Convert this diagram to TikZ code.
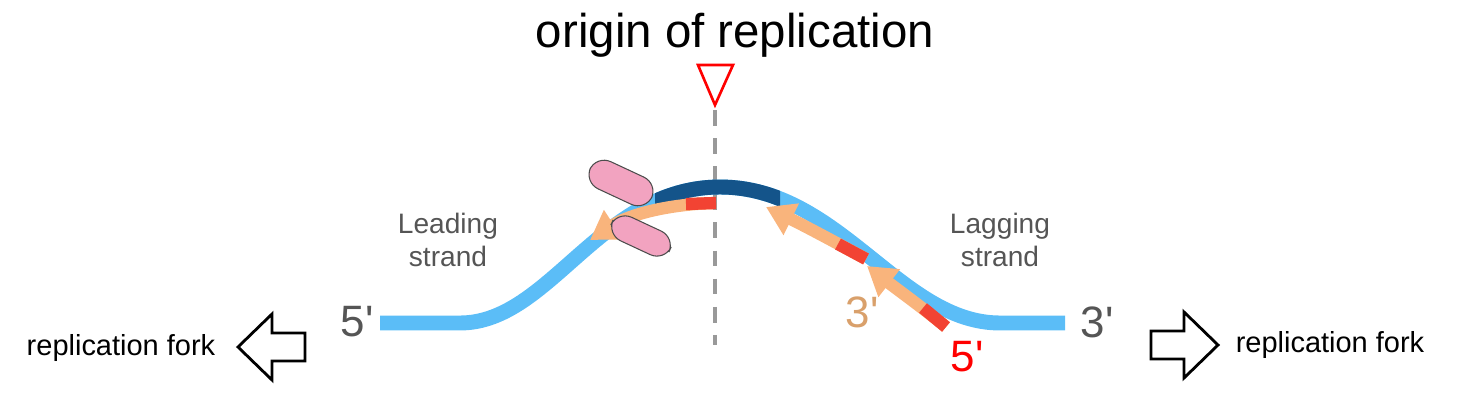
\documentclass[tikz,border=0pt]{standalone}
\usepackage{fontspec}
\setmainfont{Liberation Sans}[Ligatures=TeXOff]
\usetikzlibrary{arrows.meta}
\definecolor{lblue}{HTML}{5BBDF7}
\definecolor{dblue}{HTML}{14548A}
\definecolor{orng}{HTML}{F9B47C}
\definecolor{rseg}{HTML}{F24333}
\definecolor{pinkp}{HTML}{F2A3C0}
\definecolor{tan}{HTML}{D9A06B}
\definecolor{gtxt}{HTML}{555555}
\begin{document}
\begin{tikzpicture}[x=0.02cm,y=-0.02cm,
  lbl/.style={font=\fontsize{16}{19}\selectfont, text=gtxt, align=center},
  prime/.style={font=\fontsize{25}{28}\selectfont},
  fork/.style={font=\fontsize{16.5}{19}\selectfont},
  blockarrow/.style={draw=black, line width=1.6pt, fill=white, line join=miter},
  strand/.style={line width=8.5pt},
  primer/.style={line width=7pt, orng},
  rna/.style={line width=7pt, rseg},
  tipp/.style={-{Triangle[length=16pt,width=19pt]}}]
\useasboundingbox (0,0) rectangle (1467,409);
% dashed origin line
\draw[gray!80, line width=2pt, dash pattern=on 9pt off 7pt] (715,110) -- (715,345);
\draw[red, line width=1.5pt, fill=white] (698,65) -- (733,65) -- (715,105) -- cycle;
\node[font=\fontsize{27}{30}\selectfont] (title) at (735,35) {origin of replication};
% strand
\def\strandpath{(380,323) -- (460,323) .. controls (550,323) and (600,187) .. (720,187)
  .. controls (840,187) and (900,323) .. (1000,323) -- (1065,323)}
\draw[strand, lblue] \strandpath;
\begin{scope}
\clip (655,150) rectangle (780,230);
\draw[strand, dblue] \strandpath;
\end{scope}
% leading strand primer
\draw[primer, tipp] (716,203) .. controls (670,204) and (630,214) .. (590,240);
\draw[rna] (686,204) -- (716,203);
% lagging fragments
\draw[primer, tipp] (866,259) .. controls (835,242) and (805,226) .. (766,207);
\draw[rna] (838,244) -- (866,259);
\draw[primer, tipp] (946,327) .. controls (923,308) and (898,290) .. (867,266);
\draw[rna] (923,308) -- (946,327);
% polymerase
\draw[fill=pinkp, draw=black!70, line width=0.6pt, rounded corners=9pt, rotate around={-25:(621,183)}] (587,168) rectangle (655,198);
\draw[fill=pinkp, draw=black!70, line width=0.6pt, rounded corners=9pt, rotate around={-25:(641,236)}] (609,223) rectangle (673,249);
% labels
\node[lbl] (lead) at (448,240) {Leading\\strand};
\node[lbl] (lag) at (1000,240) {Lagging\\strand};
\node[prime, text=gtxt] (l5) at (357,322) {5'};
\node[prime, text=gtxt] (r3) at (1097,322) {3'};
\node[prime, text=tan] (t3) at (862,312) {3'};
\node[prime, text=red] (r5) at (967,357) {5'};
\node[fork] (lf) at (121,348) {replication fork};
\node[fork] (rf) at (1330,345) {replication fork};
% block arrows
\draw[blockarrow] (238,347) -- (272,314) -- (272,333) -- (305,333) -- (305,361) -- (272,361) -- (272,380) -- cycle;
\draw[blockarrow] (1218,345) -- (1184,312) -- (1184,331) -- (1151,331) -- (1151,359) -- (1184,359) -- (1184,378) -- cycle;
\end{tikzpicture}
\end{document}
